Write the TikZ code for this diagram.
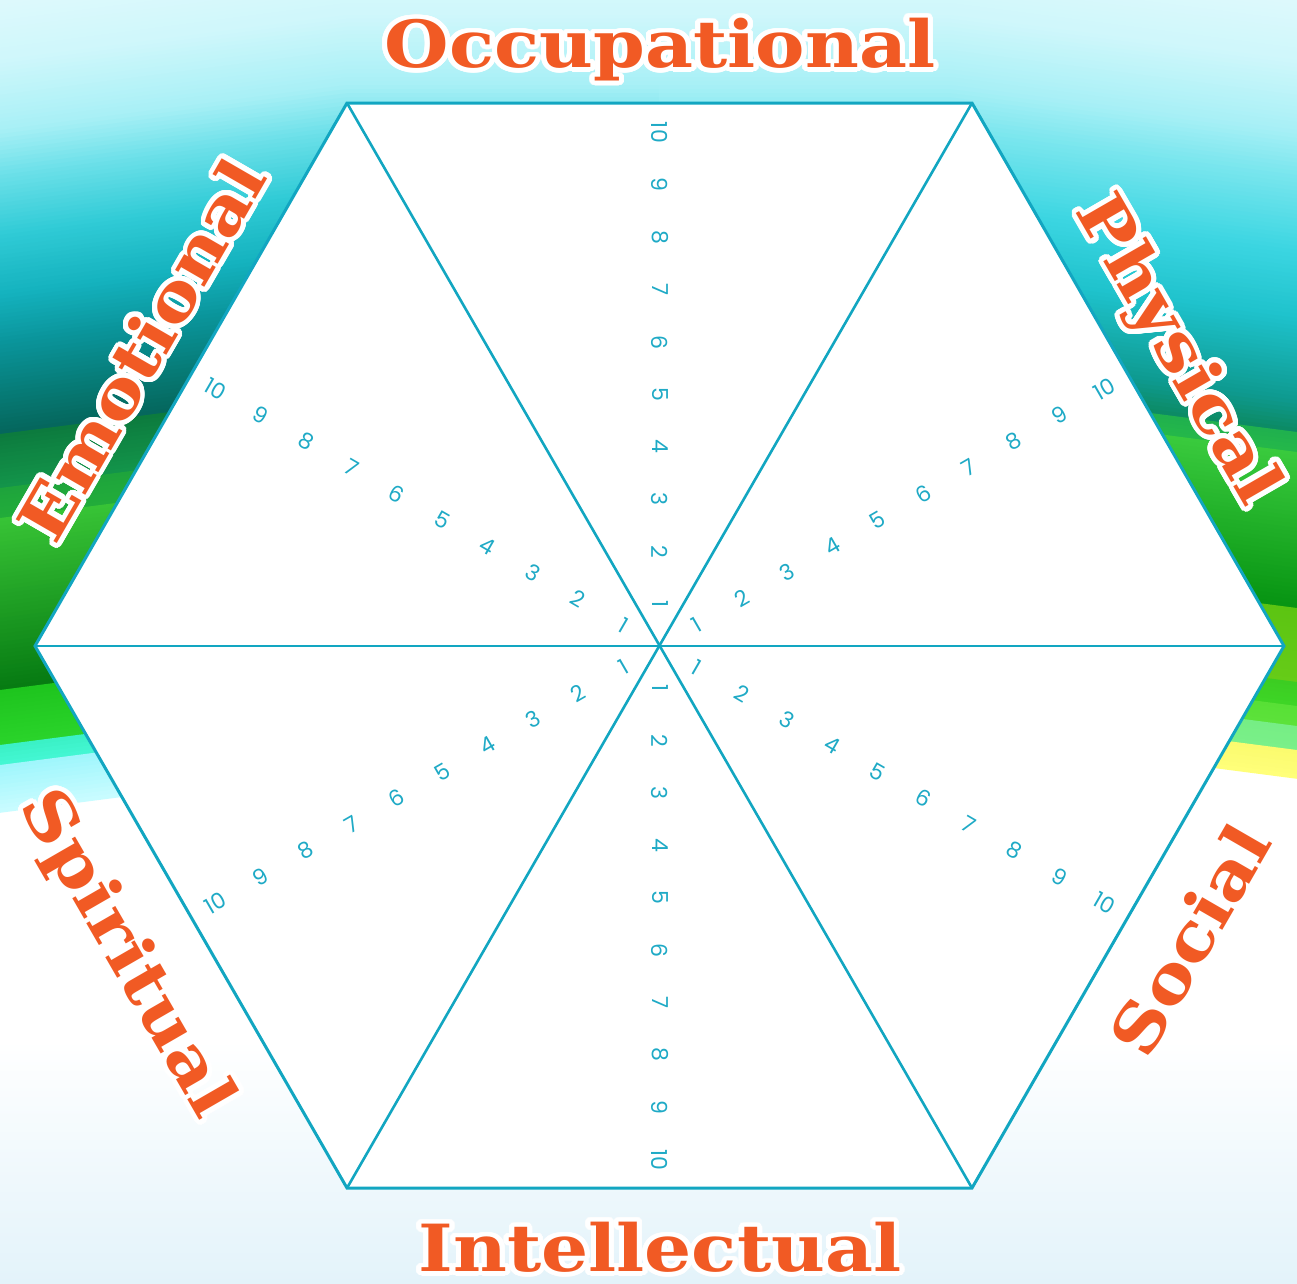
\documentclass[tikz,border=0pt]{standalone}
\usepackage{fontspec}
\usepackage[copies]{contour}
\newfontfamily\labfont{DejaVu Serif}
\newfontfamily\numfont{Poppins}
\contourlength{4.5pt}
\contournumber{48}
\definecolor{labc}{HTML}{F15A24}
\definecolor{hexc}{HTML}{12A6C1}
\definecolor{numc}{HTML}{1FAAC6}
\definecolor{botc}{HTML}{E3F3FA}
% gradient band: #1 y0, #2 y1 (at outer edge), #3 colour at y0, #4 colour at y1, #5 side (0 left, 1 right)
\newcommand\gband[5]{%
  \definecolor{bcA}{HTML}{#3}\definecolor{bcB}{HTML}{#4}%
  \pgfmathtruncatemacro\nst{max(1,round((#2-(#1))/4))}%
  \foreach \i in {1,...,\nst}{%
    \pgfmathsetmacro\ya{#1+(\i-1)*(#2-(#1))/\nst}%
    \pgfmathsetmacro\yb{#1+\i*(#2-(#1))/\nst+0.8}%
    \pgfmathsetmacro\pc{100*(\i-0.5)/\nst}%
    \colorlet{bandc}{bcB!\pc!bcA}%
    \ifnum#5=0
      \fill[bandc] (0,\ya) -- (347,\ya-45) -- (661,\ya-45) -- (661,\yb-45) -- (347,\yb-45) -- (0,\yb) -- cycle;%
    \else
      \fill[bandc] (1297,\ya) -- (950,\ya-45) -- (659,\ya-45) -- (659,\yb-45) -- (950,\yb-45) -- (1297,\yb) -- cycle;%
    \fi
  }}
\newcommand\labtext[1]{\scalebox{1.14}[1]{\contour{white}{#1}}}
\begin{document}
\begin{tikzpicture}[x=1pt,y=-1pt,
  lab/.style={font=\labfont\bfseries\fontsize{65}{65}\selectfont, text=labc,
    inner sep=0pt, text height=47pt, text depth=0pt},
  numlbl/.style={font=\numfont\fontsize{22}{22}\selectfont, text=numc, inner sep=0pt},
  hexedge/.style={draw=hexc, line width=3pt, line join=miter},
  spoke/.style={draw=hexc, line width=2.6pt}
]
\useasboundingbox (0,0) rectangle (1297,1283);
\clip (0,0) rectangle (1297,1283);
% ---------- background ----------
\fill[white] (0,0) rectangle (1297,1283);
\shade[top color=white, bottom color=botc] (0,1040) rectangle (1297,1283);
% left side
\gband{-50}{60}{E9FBFD}{CFF7FB}{0}
\gband{60}{130}{CFF7FB}{A8F0F6}{0}
\gband{130}{175}{A8F0F6}{6CE0E9}{0}
\gband{175}{235}{6CE0E9}{30CBD6}{0}
\gband{235}{295}{30CBD6}{14B2BE}{0}
\gband{295}{345}{14B2BE}{0A949A}{0}
\gband{345}{400}{0A949A}{067872}{0}
\gband{400}{434}{067872}{05665C}{0}
\gband{434}{488}{0C7A3E}{13954A}{0}
\gband{488}{518}{1EA43C}{22AC3A}{0}
\gband{518}{690}{38C436}{067A12}{0}
\gband{690}{745}{1EC41E}{2AD42A}{0}
\gband{745}{765}{3AF0C4}{44F7D4}{0}
\gband{765}{812}{9EF6FC}{CAFCFF}{0}
% right side
\gband{-50}{60}{E9FBFD}{CFF7FB}{1}
\gband{60}{130}{CFF7FB}{A8F0F6}{1}
\gband{130}{175}{A8F0F6}{7AE6EE}{1}
\gband{175}{250}{7AE6EE}{3CD6E2}{1}
\gband{250}{318}{3CD6E2}{1EC2CC}{1}
\gband{318}{400}{1EC2CC}{0E9A90}{1}
\gband{400}{432}{0E9A90}{0C8A62}{1}
\gband{432}{452}{1FB04E}{25B84A}{1}
\gband{452}{608}{3ACB3E}{079412}{1}
\gband{608}{682}{5CC412}{66CC18}{1}
\gband{682}{706}{3CCC22}{3ED626}{1}
\gband{706}{726}{58E036}{5CE23A}{1}
\gband{726}{750}{76EE84}{7AF08A}{1}
\gband{750}{778}{FBFB6E}{FFFF7A}{1}
% ---------- hexagon ----------
\coordinate (C)  at (660,646);
\coordinate (TL) at (347,103);
\coordinate (TR) at (972,103);
\coordinate (R)  at (1284,646);
\coordinate (BR) at (972,1188);
\coordinate (BL) at (347,1188);
\coordinate (L)  at (35,646);
\draw[hexedge, fill=white] (TL) -- (TR) -- (R) -- (BR) -- (BL) -- (L) -- cycle;
\draw[spoke] (TL) -- (BR);
\draw[spoke] (TR) -- (BL);
\draw[spoke] (L) -- (R);
% ---------- scale numbers ----------
\foreach \a/\r/\nm in {90/-90/o, 30/30/p, -30/-30/s, -90/-90/i, 210/30/r, 150/-30/e}{
  \foreach \k in {1,...,10}{
    \pgfmathsetmacro\d{42+52.4*(\k-1)}
    \node[numlbl, rotate=\r] (n\nm\k) at ({660+\d*cos(\a)},{646-\d*sin(\a)}) {\k};
  }
}
% ---------- labels ----------
\node[lab] (occ) at (660,44) {\labtext{Occupational}};
\node[lab] (int) at (660,1248) {\labtext{Intellectual}};
\node[lab, rotate=-60] (phy) at (1181,348) {\labtext{Physical}};
\node[lab, rotate=60] (soc) at (1190,940) {\labtext{Social}};
\node[lab, rotate=-60] (spi) at (130,952) {\labtext{Spiritual}};
\node[lab, rotate=60] (emo) at (142,350) {\labtext{Emotional}};
\end{tikzpicture}
\end{document}
